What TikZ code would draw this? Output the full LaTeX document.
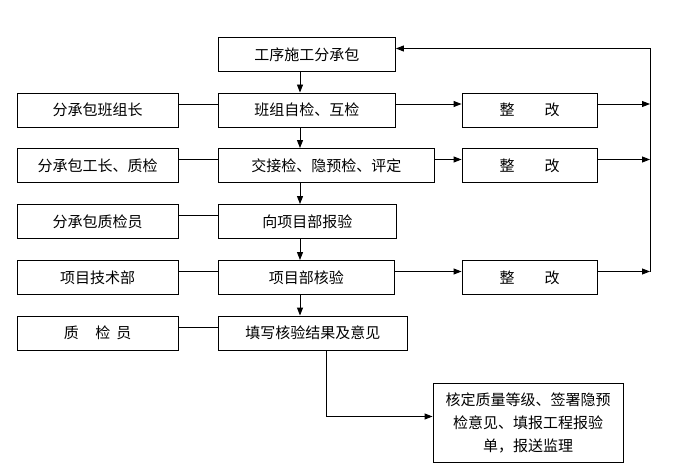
\documentclass[tikz,border=0pt]{standalone}
\usepackage{fontspec}
\setmainfont{Noto Sans CJK SC}
\usetikzlibrary{arrows.meta,positioning}

\begin{document}
\begin{tikzpicture}[x=1pt,y=-1pt,line width=0.9pt,
  box/.style={draw, inner sep=0pt, minimum height=34pt, font=\fontsize{15}{18}\selectfont},
  lbox/.style={box, minimum width=161pt},
  zbox/.style={box, minimum width=135pt},
  arr/.style={-{Triangle[length=8pt,width=6pt]}}]

\useasboundingbox (0,0) rectangle (685,476);

% middle column
\node[box, anchor=west, minimum width=177pt] (gx) at (218,54.5) {工序施工分承包};
\node[box, anchor=west, minimum width=177pt] (bz) at (218,110) {班组自检、互检};
\node[box, anchor=west, minimum width=216pt] (jj) at (218,165.5) {交接检、隐预检、评定};
\node[box, anchor=west, minimum width=178pt] (xm) at (218,221.5) {向项目部报验};
\node[box, anchor=west, minimum width=176pt] (hy) at (218,277.5) {项目部核验};
\node[box, anchor=west, minimum width=189pt] (tx) at (218,333) {填写核验结果及意见};

% left column
\node[lbox] (l1) at (97.5,110) {分承包班组长};
\node[lbox] (l2) at (97.5,165.5) {分承包工长、质检};
\node[lbox] (l3) at (97.5,221.5) {分承包质检员};
\node[lbox] (l4) at (97.5,277.5) {项目技术部};
\node[lbox] (l5) at (97.5,333) {质\hspace{1.1em}检\hspace{0.4em}员};

% right column
\node[zbox] (z1) at (529.5,110) {整\hspace{2em}改};
\node[zbox] (z2) at (529.5,165.5) {整\hspace{2em}改};
\node[zbox] (z3) at (529.5,277.5) {整\hspace{2em}改};

\node[draw, inner sep=0pt, minimum width=190pt, minimum height=79pt, align=center,
  font=\fontsize{15}{23}\selectfont] (hd) at (528,422.5)
  {核定质量等级、签署隐预\\检意见、填报工程报验\\单，报送监理};

\coordinate (col) at (300,0);
\coordinate (dn) at (326,0);
\coordinate (rt) at (650,0);

% down the middle
\draw[arr] (gx.south -| col) -- (bz.north -| col);
\draw[arr] (bz.south -| col) -- (jj.north -| col);
\draw[arr] (jj.south -| col) -- (xm.north -| col);
\draw[arr] (xm.south -| col) -- (hy.north -| col);
\draw[arr] (hy.south -| col) -- (tx.north -| col);
\draw[arr] (tx.south -| dn) |- ([yshift=6pt]hd.west);

% left links
\foreach \a/\b in {l1/bz, l2/jj, l3/xm, l4/hy, l5/tx}
  \draw ([yshift=6pt]\a.east) -- ([yshift=6pt]\a.east -| \b.west);

% to the rework boxes and back
\foreach \a/\b in {bz/z1, jj/z2, hy/z3}
{
  \draw[arr] ([yshift=6pt]\a.east) -- ([yshift=6pt]\a.east -| \b.west);
  \draw[arr] ([yshift=6pt]\b.east) -- ([yshift=6pt]\b.east -| rt);
}
\draw[arr] ([yshift=6pt]z3.east -| rt) -- ([yshift=6pt]gx.east -| rt) -- ([yshift=6pt]gx.east);

\end{tikzpicture}
\end{document}
